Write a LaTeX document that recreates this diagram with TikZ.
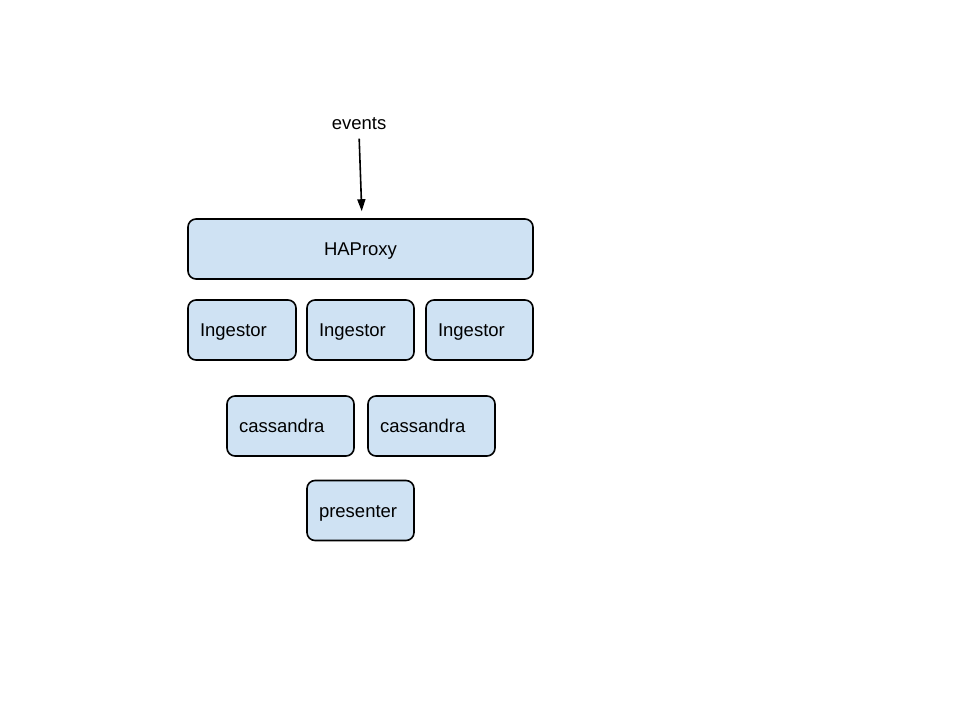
\documentclass[tikz,border=0pt]{standalone}
\usepackage{fontspec}
\setmainfont{Liberation Sans}
\usetikzlibrary{arrows.meta}
\definecolor{boxblue}{RGB}{207, 226, 243}

\tikzset{
    unit/.style={draw=black, fill=boxblue, line width=1.6pt, rounded corners=8pt,
                 minimum height=60pt, inner xsep=12pt, align=left, text height=13.5pt, text depth=0pt,
                 font=\fontsize{18.5}{22}\selectfont},
    flow/.style={-{Triangle[length=12pt,width=8pt]}, line width=1.6pt, shorten <=5pt, shorten >=7pt}
}

\begin{document}
\begin{tikzpicture}[x=1pt, y=-1pt]
            \useasboundingbox (0,0) rectangle (960,720);
            \node[font=\fontsize{18.5}{22}\selectfont] (events)    at (359,124) {events};
            \node[unit, minimum width=345pt, align=center] (haproxy) at (360.5,249) {HAProxy};
            \node[unit, text width=84pt]  (ingestA)   at (242,330)   {Ingestor};
            \node[unit, text width=83pt]  (ingestB)   at (360.5,330) {Ingestor};
            \node[unit, text width=83pt]  (ingestC)   at (479.5,330) {Ingestor};
            \node[unit, text width=103pt] (cassA)     at (290.5,426) {cassandra};
            \node[unit, text width=103pt] (cassB)     at (431.5,426) {cassandra};
            \node[unit, text width=83pt]  (presenter) at (360.5,510.5) {presenter};
            \draw[flow] (events.south) -- ([xshift=1.5pt]haproxy.north);
        \end{tikzpicture}
\end{document}
